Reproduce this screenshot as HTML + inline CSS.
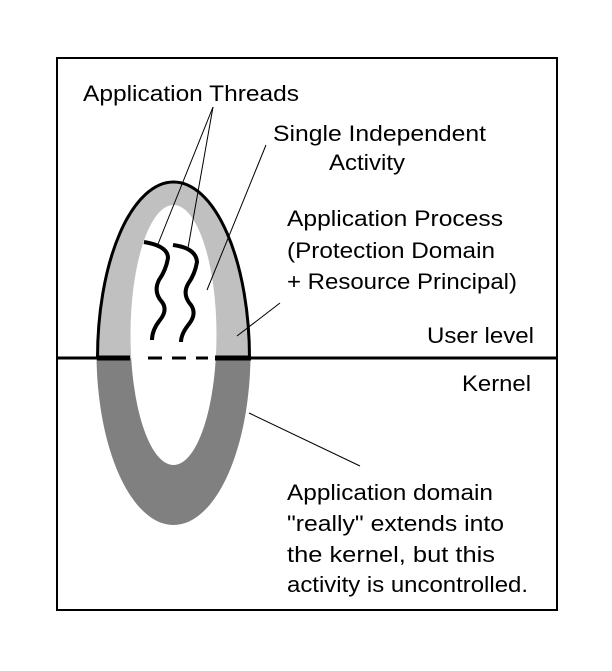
<!DOCTYPE html>
<html><head><meta charset="utf-8"><style>
html,body{margin:0;padding:0;background:#fff;}
svg{display:block;}
text{font-family:"Liberation Sans",sans-serif;font-size:22px;fill:#000;}
</style></head><body>
<svg width="612" height="671" viewBox="0 0 612 671" xmlns="http://www.w3.org/2000/svg">
<rect x="0" y="0" width="612" height="671" fill="#fff"/>
<rect x="57" y="58" width="500" height="552" fill="none" stroke="#000" stroke-width="2"/>
<defs>
<clipPath id="top"><rect x="0" y="0" width="612" height="358"/></clipPath>
<clipPath id="bot"><rect x="0" y="358" width="612" height="300"/></clipPath>
</defs>
<g clip-path="url(#bot)">
<ellipse cx="173.5" cy="353" rx="77" ry="172" fill="#808080"/>
<ellipse cx="173.5" cy="335" rx="43" ry="130" fill="#fff"/>
</g>
<g clip-path="url(#top)">
<ellipse cx="173.5" cy="358" rx="76" ry="176" fill="#c0c0c0" stroke="#000" stroke-width="3"/>
<ellipse cx="173.5" cy="335" rx="43" ry="130" fill="#fff"/>
</g>
<line x1="57" y1="358" x2="130" y2="358" stroke="#000" stroke-width="3"/>
<line x1="215" y1="358" x2="557" y2="358" stroke="#000" stroke-width="3"/>
<line x1="97" y1="358" x2="130" y2="358" stroke="#000" stroke-width="5"/>
<line x1="215" y1="358" x2="251" y2="358" stroke="#000" stroke-width="5"/>
<g stroke="#000" stroke-width="3">
<line x1="148" y1="358" x2="162" y2="358"/>
<line x1="172" y1="358" x2="186" y2="358"/>
<line x1="196" y1="358" x2="208" y2="358"/>
</g>
<path d="M144,242 Q168,246 168,258 Q166,270 159,280 Q153,292 162,302 Q168,310 160,320 Q152,330 152,340" fill="none" stroke="#000" stroke-width="4"/>
<path d="M173,245 Q196,248 197,262 Q195,274 188,284 Q182,295 191,305 Q197,314 189,324 Q181,334 181,342" fill="none" stroke="#000" stroke-width="4"/>
<g stroke="#000" stroke-width="1">
<line x1="213" y1="107" x2="158" y2="244"/>
<line x1="213" y1="107" x2="188" y2="248"/>
<line x1="266" y1="145" x2="207" y2="290"/>
<line x1="280" y1="303" x2="237" y2="336"/>
<line x1="249" y1="413" x2="360" y2="466"/>
</g>
<text x="83" y="101" textLength="216" lengthAdjust="spacingAndGlyphs">Application Threads</text>
<text x="273" y="141" textLength="213" lengthAdjust="spacingAndGlyphs">Single Independent</text>
<text x="329" y="170" textLength="76" lengthAdjust="spacingAndGlyphs">Activity</text>
<text x="287" y="226" textLength="216" lengthAdjust="spacingAndGlyphs">Application Process</text>
<text x="287" y="258" textLength="208" lengthAdjust="spacingAndGlyphs">(Protection Domain</text>
<text x="287" y="289" textLength="230" lengthAdjust="spacingAndGlyphs">+ Resource Principal)</text>
<text x="427" y="343" textLength="107" lengthAdjust="spacingAndGlyphs">User level</text>
<text x="462" y="391" textLength="69" lengthAdjust="spacingAndGlyphs">Kernel</text>
<text x="287" y="500" textLength="206" lengthAdjust="spacingAndGlyphs">Application domain</text>
<text x="287" y="531" textLength="217" lengthAdjust="spacingAndGlyphs">"really" extends into</text>
<text x="287" y="562" textLength="208" lengthAdjust="spacingAndGlyphs">the kernel, but this</text>
<text x="287" y="592" textLength="241" lengthAdjust="spacingAndGlyphs">activity is uncontrolled.</text>
</svg>
</body></html>
